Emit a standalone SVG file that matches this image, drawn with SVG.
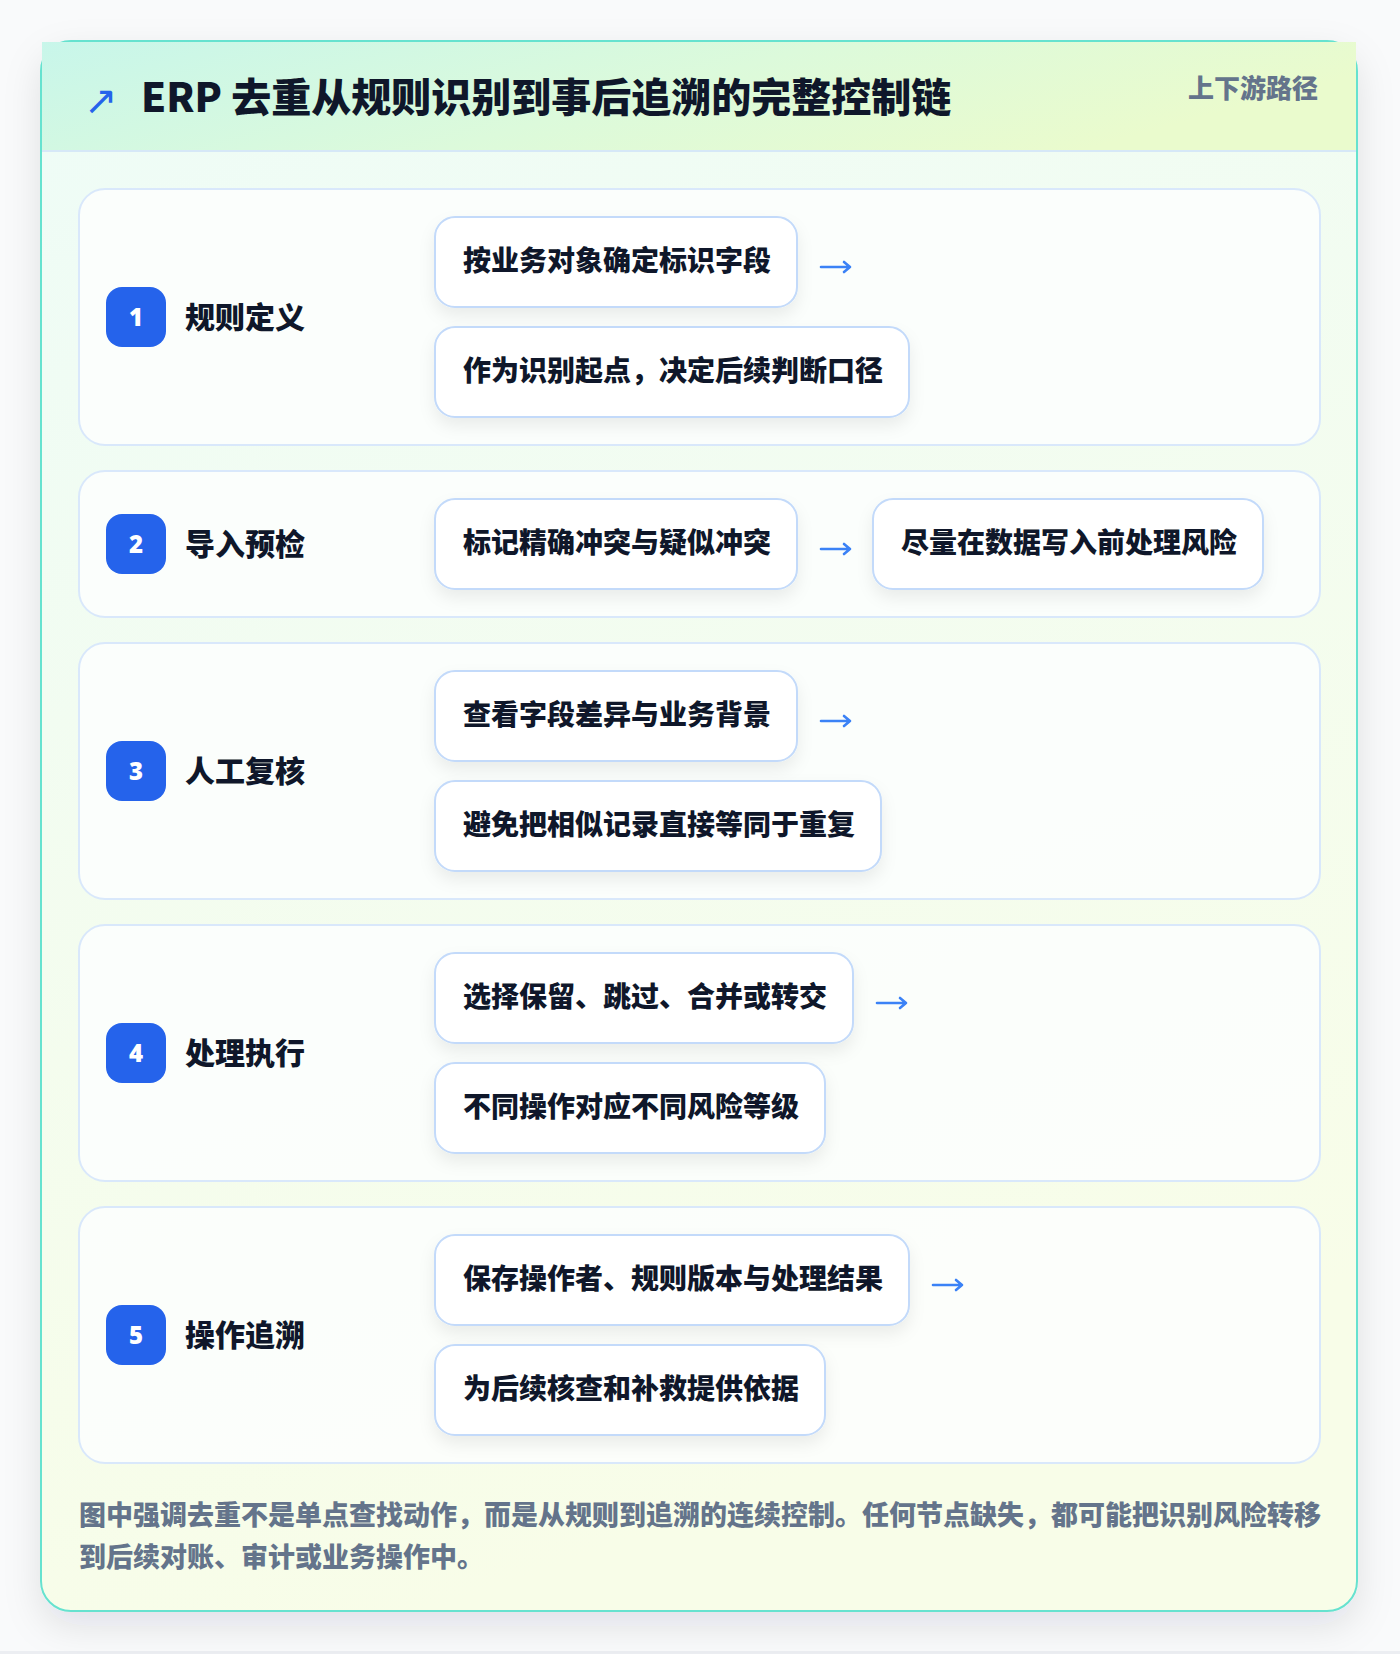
<svg xmlns="http://www.w3.org/2000/svg" width="1400" height="1654" viewBox="0 0 1400 1654">
<defs>
<linearGradient id="hdr" x1="0" y1="0" x2="1" y2="0.3">
<stop offset="0" stop-color="#c8f6ea"/>
<stop offset="0.55" stop-color="#dcfadb"/>
<stop offset="1" stop-color="#eafbcd"/>
</linearGradient>
<linearGradient id="body" x1="0" y1="0" x2="0.3" y2="1">
<stop offset="0" stop-color="#eefcf7"/>
<stop offset="1" stop-color="#f8fde8"/>
</linearGradient>
<filter id="cardShadow" x="-10%" y="-10%" width="120%" height="125%">
<feDropShadow dx="0" dy="14" stdDeviation="18" flood-color="#0f172a" flood-opacity="0.10"/>
</filter>
<filter id="boxShadow" x="-20%" y="-30%" width="140%" height="180%">
<feDropShadow dx="0" dy="8" stdDeviation="8" flood-color="#0f172a" flood-opacity="0.07"/>
</filter>
<style>
.row{fill:#fcfefd;fill-opacity:0.9;stroke:#d9e8fb;stroke-width:2}
.item{fill:#ffffff;stroke:#c3dafa;stroke-width:2;filter:url(#boxShadow)}
.badge{fill:#2563eb}
.num{font-family:"Noto Sans","Noto Sans CJK SC",sans-serif;font-weight:900;font-size:24px;fill:#ffffff;text-anchor:middle}
.lbl{font-family:"Noto Sans CJK SC",sans-serif;font-weight:900;font-size:30px;fill:#0f172a}
.txt{font-family:"Noto Sans CJK SC",sans-serif;font-weight:900;font-size:28px;fill:#0f172a}
.arr{fill:none;stroke:#3b82f6;stroke-width:2.6;stroke-linecap:round;stroke-linejoin:round}
</style>
</defs>
<rect x="0" y="0" width="1400" height="1654" fill="#f9fafb"/>
<rect x="0" y="1651" width="1400" height="3" fill="#eceef2"/>
<g id="card">
<rect x="41" y="41" width="1316" height="1570" rx="30" fill="url(#body)" stroke="#66e2cf" stroke-width="2" filter="url(#cardShadow)"/>
<rect x="42" y="42" width="1314" height="109" fill="url(#hdr)"/>
<line x1="42" y1="151" x2="1356" y2="151" stroke="#d6e8f7" stroke-width="2"/>
<text x="84" y="114" font-family="DejaVu Sans,sans-serif" font-size="40" font-weight="400" fill="#2563eb">↗</text>
<text x="141" y="112" font-family="Noto Sans CJK SC,sans-serif" font-size="40" font-weight="900" fill="#0f172a">ERP 去重从规则识别到事后追溯的完整控制链</text>
<text x="1318" y="98" text-anchor="end" font-family="Noto Sans CJK SC,sans-serif" font-size="26" font-weight="900" fill="#64748b">上下游路径</text>
</g>
<g id="stage1">
<rect class="row" x="79" y="189" width="1241" height="256" rx="26"/>
<rect class="badge" x="106" y="287" width="60" height="60" rx="16"/>
<text class="num" x="136" y="326">1</text>
<text class="lbl" x="185" y="328">规则定义</text>
<rect class="item" x="435" y="217" width="362" height="90" rx="20"/>
<text class="txt" x="463" y="271">按业务对象确定标识字段</text>
<rect class="item" x="435" y="327" width="474" height="90" rx="20"/>
<text class="txt" x="463" y="381">作为识别起点，决定后续判断口径</text>
</g>
<g id="stage2">
<rect class="row" x="79" y="471" width="1241" height="146" rx="26"/>
<rect class="badge" x="106" y="514" width="60" height="60" rx="16"/>
<text class="num" x="136" y="553">2</text>
<text class="lbl" x="185" y="555">导入预检</text>
<rect class="item" x="435" y="499" width="362" height="90" rx="20"/>
<text class="txt" x="463" y="553">标记精确冲突与疑似冲突</text>
<rect class="item" x="873" y="499" width="390" height="90" rx="20"/>
<text class="txt" x="901" y="553">尽量在数据写入前处理风险</text>
</g>
<g id="stage3">
<rect class="row" x="79" y="643" width="1241" height="256" rx="26"/>
<rect class="badge" x="106" y="741" width="60" height="60" rx="16"/>
<text class="num" x="136" y="780">3</text>
<text class="lbl" x="185" y="782">人工复核</text>
<rect class="item" x="435" y="671" width="362" height="90" rx="20"/>
<text class="txt" x="463" y="725">查看字段差异与业务背景</text>
<rect class="item" x="435" y="781" width="446" height="90" rx="20"/>
<text class="txt" x="463" y="835">避免把相似记录直接等同于重复</text>
</g>
<g id="stage4">
<rect class="row" x="79" y="925" width="1241" height="256" rx="26"/>
<rect class="badge" x="106" y="1023" width="60" height="60" rx="16"/>
<text class="num" x="136" y="1062">4</text>
<text class="lbl" x="185" y="1064">处理执行</text>
<rect class="item" x="435" y="953" width="418" height="90" rx="20"/>
<text class="txt" x="463" y="1007">选择保留、跳过、合并或转交</text>
<rect class="item" x="435" y="1063" width="390" height="90" rx="20"/>
<text class="txt" x="463" y="1117">不同操作对应不同风险等级</text>
</g>
<g id="stage5">
<rect class="row" x="79" y="1207" width="1241" height="256" rx="26"/>
<rect class="badge" x="106" y="1305" width="60" height="60" rx="16"/>
<text class="num" x="136" y="1344">5</text>
<text class="lbl" x="185" y="1346">操作追溯</text>
<rect class="item" x="435" y="1235" width="474" height="90" rx="20"/>
<text class="txt" x="463" y="1289">保存操作者、规则版本与处理结果</text>
<rect class="item" x="435" y="1345" width="390" height="90" rx="20"/>
<text class="txt" x="463" y="1399">为后续核查和补救提供依据</text>
</g>
<g id="connectors">
<path class="arr" d="M821,267 H850 M844,262 L850,267 L844,272"/>
<path class="arr" d="M821,549 H850 M844,544 L850,549 L844,554"/>
<path class="arr" d="M821,721 H850 M844,716 L850,721 L844,726"/>
<path class="arr" d="M877,1003 H906 M900,998 L906,1003 L900,1008"/>
<path class="arr" d="M933,1285 H962 M956,1280 L962,1285 L956,1290"/>
</g>
<g id="footer" font-family="Noto Sans CJK SC,sans-serif" font-size="27" font-weight="900" fill="#64748b">
<text x="79" y="1525">图中强调去重不是单点查找动作，而是从规则到追溯的连续控制。任何节点缺失，都可能把识别风险转移</text>
<text x="79" y="1567">到后续对账、审计或业务操作中。</text>
</g>
</svg>
